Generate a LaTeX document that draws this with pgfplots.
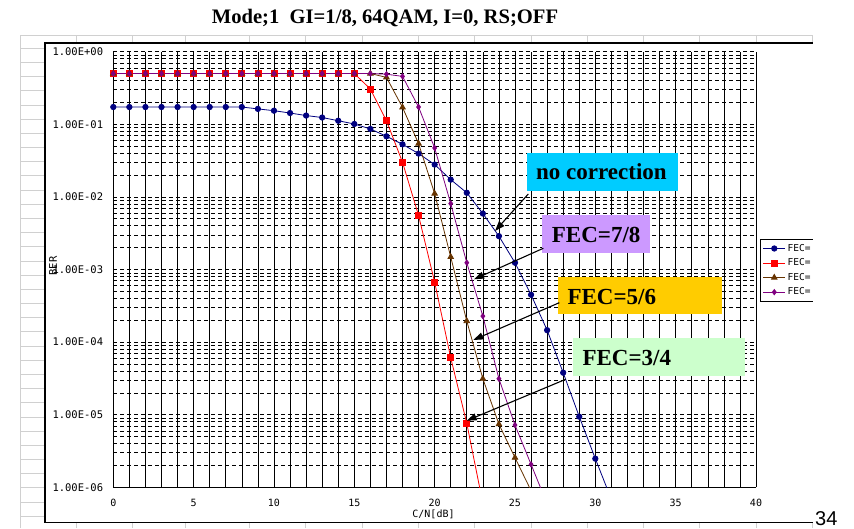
\documentclass[border=0pt]{standalone}
\usepackage{pgfplots}
\pgfplotsset{compat=1.18}
\usetikzlibrary{arrows.meta}
\usepackage{fontspec}
\setmainfont{Liberation Serif}
\setmonofont{DejaVu Sans Mono}
\newfontfamily\sansf{Liberation Sans}
\definecolor{navyc}{RGB}{0,0,128}
\definecolor{redc}{RGB}{255,0,0}
\definecolor{brownc}{RGB}{102,51,0}
\definecolor{purplec}{RGB}{128,0,128}
\definecolor{sheetgrey}{RGB}{208,208,208}
\definecolor{boxcyan}{RGB}{0,204,255}
\definecolor{boxlav}{RGB}{204,153,255}
\definecolor{boxgold}{RGB}{255,204,0}
\definecolor{boxgreen}{RGB}{204,255,204}

\pgfplotstableread{
x y
0 0.173
1 0.173
2 0.173
3 0.173
4 0.173
5 0.173
6 0.173
7 0.173
8 0.173
9 0.163
10 0.154
11 0.143
12 0.132
13 0.124
14 0.112
15 0.101
16 0.0863
17 0.0684
18 0.053
19 0.0395
20 0.0279
21 0.0173
22 0.0114
23 0.0059
24 0.00288
25 0.00124
26 4.49e-4
27 1.46e-4
28 3.79e-5
29 9.4e-6
30 2.48e-6
31 6.8e-7
}\nocorr

\pgfplotstableread{
x y
0 0.5
1 0.5
2 0.5
3 0.5
4 0.5
5 0.5
6 0.5
7 0.5
8 0.5
9 0.5
10 0.5
11 0.5
12 0.5
13 0.5
14 0.5
15 0.5
16 0.306
17 0.112
18 0.030
19 0.00554
20 6.69e-4
21 6.1e-5
22 7.6e-6
23 6.0e-7
}\fecA

\pgfplotstableread{
x y
0 0.5
1 0.5
2 0.5
3 0.5
4 0.5
5 0.5
6 0.5
7 0.5
8 0.5
9 0.5
10 0.5
11 0.5
12 0.5
13 0.5
14 0.5
15 0.5
16 0.5
17 0.443
18 0.171
19 0.0542
20 0.0111
21 0.00149
22 1.95e-4
23 3.13e-5
24 7.4e-6
25 2.56e-6
26 9.0e-7
}\fecB

\pgfplotstableread{
x y
0 0.5
1 0.5
2 0.5
3 0.5
4 0.5
5 0.5
6 0.5
7 0.5
8 0.5
9 0.5
10 0.5
11 0.5
12 0.5
13 0.5
14 0.5
15 0.5
16 0.5
17 0.49
18 0.457
19 0.173
20 0.0472
21 0.0081
22 0.00124
23 2.28e-4
24 3.13e-5
25 7.2e-6
26 2.07e-6
27 5.9e-7
}\fecC

\begin{document}
\begin{tikzpicture}[x=1pt,y=1pt]
\fill[white] (0,0) rectangle (854,528);
% spreadsheet grid in the background
\begin{scope}[draw=sheetgrey, line width=0.8pt]
\draw (20,492.7) -- (812.7,492.7);
\draw (20,0) -- (20,492.7);
\foreach \k in {1,...,34} {\draw (20,{493.9-14.18*\k}) -- (45,{493.9-14.18*\k});}
\foreach \x in {76.3,132.3,185.3,249.3,305.3,362,418.3,474.7,531.3,587.3,643.7,699.3,756,812.7} {
  \draw (\x,485) -- (\x,492.7);
  \draw (\x,0) -- (\x,5.3);
}
\end{scope}
% chart area
\fill[white] (45,5.3) rectangle (812.7,485);
\draw[black, line width=1.2pt] (812.7,485) -- (45,485) -- (45,5.3) -- (812.7,5.3);

\begin{axis}[
  at={(113.3pt,40.7pt)}, anchor=south west,
  scale only axis, width=642.7pt, height=435.6pt,
  xmin=0, xmax=40, ymode=log, ymin=1e-6, ymax=1,
  xtick={0,5,...,40}, xticklabels={0,5,10,15,20,25,30,35,40},
  minor x tick num=4,
  ytick={1e-6,1e-5,1e-4,1e-3,1e-2,1e-1,1},
  yticklabels={1.00E-06,1.00E-05,1.00E-04,1.00E-03,1.00E-02,1.00E-01,1.00E+00},
  xmajorgrids, xminorgrids, ymajorgrids, yminorgrids,
  major tick length=0pt, minor tick length=0pt,
  axis x line*=bottom, axis y line*=left,
  x axis line style={-, line width=1pt},
  y axis line style={-, line width=1pt},
  major grid style={black, line width=0.6pt},
  minor grid style={black, line width=0.6pt},
  x grid style={black, line width=0.6pt, solid},
  y grid style={black, line width=0.6pt, dash pattern=on 4pt off 3pt},
  yticklabel style={anchor=east, inner sep=0pt, xshift=-10pt, font=\ttfamily\fontsize{10.5}{12}\selectfont},
  xticklabel style={anchor=center, inner sep=0pt, yshift=-16pt, font=\ttfamily\fontsize{10}{12}\selectfont},
  xlabel={C/N[dB]},
  xlabel style={at={(axis description cs:0.4982,-0.0613)}, anchor=center, inner sep=0pt, font=\ttfamily\fontsize{10}{12}\selectfont},
  ylabel={BER},
  ylabel style={at={(axis description cs:-0.0938,0.508)}, anchor=center, inner sep=0pt, font=\ttfamily\fontsize{10.5}{12}\selectfont},
  legend style={at={(axis description cs:1.0062,0.5693)}, anchor=north west, draw=black, line width=0.8pt, fill=white,
    font=\ttfamily\fontsize{9.5}{11}\selectfont, row sep=2pt, inner sep=2.5pt},
  legend cell align=left,
  legend image code/.code={\draw[mark repeat=2,mark phase=2] plot coordinates {(0pt,0pt) (11pt,0pt) (22pt,0pt)};},
]
\addplot[color=navyc, line width=0.8pt, mark=*, mark size=2.7pt] table[x=x,y=y] {\nocorr};
\addlegendentry{FEC=\hphantom{non}}
\addplot[color=redc, line width=0.8pt, mark=square*, mark size=3pt] table[x=x,y=y] {\fecA};
\addlegendentry{FEC=\hphantom{3/4}}
\addplot[color=brownc, line width=0.8pt, mark=triangle*, mark size=3.2pt] table[x=x,y=y] {\fecB};
\addlegendentry{FEC=\hphantom{5/6}}
\addplot[color=purplec, line width=0.8pt, mark=diamond*, mark size=2.6pt] table[x=x,y=y] {\fecC};
\addlegendentry{FEC=\hphantom{7/8}}
\end{axis}

% cut the chart at its right edge, as in the reference
\fill[white] (813.4,0) rectangle (854,528);
\draw[sheetgrey, line width=0.8pt] (812.7,0) -- (812.7,5.3);

% title
\node[anchor=base west, inner sep=0pt, font=\bfseries\fontsize{20.6}{24}\selectfont] at (211.7,504) {Mode;1\ \ GI=1/8, 64QAM, I=0, RS;OFF};

% annotation boxes
\fill[boxcyan] (527,337.3) rectangle (677.7,374.7);
\node[anchor=base west, inner sep=0pt, font=\bfseries\fontsize{23}{26}\selectfont] at (536,348) {no correction};
\fill[boxlav] (542.3,275.3) rectangle (650,312.7);
\node[anchor=base west, inner sep=0pt, font=\bfseries\fontsize{23}{26}\selectfont] at (551.7,285.7) {FEC=7/8};
\fill[boxgold] (557.7,213.7) rectangle (721.7,250.7);
\node[anchor=base west, inner sep=0pt, font=\bfseries\fontsize{23}{26}\selectfont] at (567.3,223.7) {FEC=5/6};
\fill[boxgreen] (573,152.3) rectangle (745,189.7);
\node[anchor=base west, inner sep=0pt, font=\bfseries\fontsize{23}{26}\selectfont] at (582.3,162.3) {FEC=3/4};

% arrows
\begin{scope}[line width=1.1pt, -{Triangle[length=10pt,width=7pt]}]
\draw (528.3,334) -- (495,297);
\draw (543.3,279.7) -- (474,248.7);
\draw (559.3,225.3) -- (473.3,188);
\draw (565.7,148.7) -- (466.7,107.3);
\end{scope}

% page number
\node[anchor=base west, inner sep=0pt, font=\sansf\fontsize{20}{24}\selectfont] at (815,3) {34};
\end{tikzpicture}
\end{document}
